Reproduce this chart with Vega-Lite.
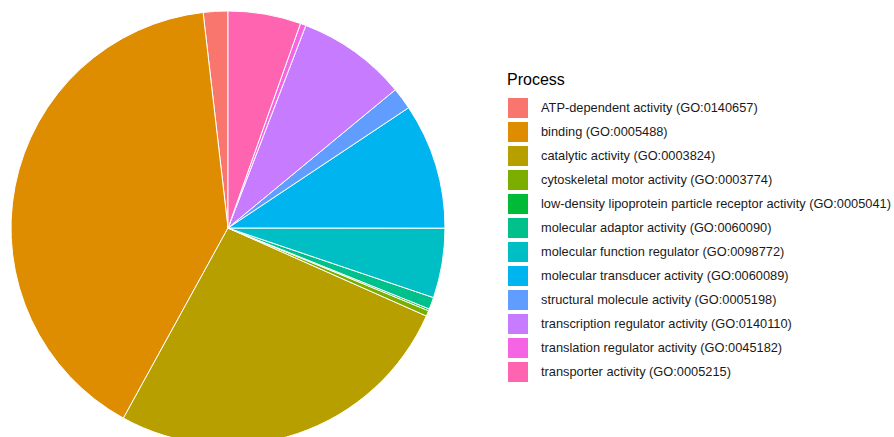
{
  "$schema": "https://vega.github.io/schema/vega-lite/v6.json",
  "width": 456,
  "height": 456,
  "autosize": {"type": "none"},
  "padding": {"left": 0, "top": 0, "right": 438, "bottom": -19},
  "background": "white",
  "config": {"view": {"stroke": null}},
  "data": {
    "values": [
      {"process": "ATP-dependent activity (GO:0140657)", "share": 1.83},
      {"process": "binding (GO:0005488)", "share": 40.17},
      {"process": "catalytic activity (GO:0003824)", "share": 26.36},
      {"process": "cytoskeletal motor activity (GO:0003774)", "share": 0.42},
      {"process": "low-density lipoprotein particle receptor activity (GO:0005041)", "share": 0.14},
      {"process": "molecular adaptor activity (GO:0060090)", "share": 0.89},
      {"process": "molecular function regulator (GO:0098772)", "share": 5.19},
      {"process": "molecular transducer activity (GO:0060089)", "share": 9.36},
      {"process": "structural molecule activity (GO:0005198)", "share": 1.64},
      {"process": "transcription regulator activity (GO:0140110)", "share": 8.17},
      {"process": "translation regulator activity (GO:0045182)", "share": 0.42},
      {"process": "transporter activity (GO:0005215)", "share": 5.42}
    ]
  },
  "mark": {"type": "arc", "radius": 217, "stroke": "white", "strokeWidth": 1},
  "encoding": {
    "theta": {"field": "share", "type": "quantitative", "stack": true},
    "order": {"field": "process", "type": "nominal", "sort": "descending"},
    "color": {
      "field": "process",
      "type": "nominal",
      "scale": {
        "domain": [
          "ATP-dependent activity (GO:0140657)",
          "binding (GO:0005488)",
          "catalytic activity (GO:0003824)",
          "cytoskeletal motor activity (GO:0003774)",
          "low-density lipoprotein particle receptor activity (GO:0005041)",
          "molecular adaptor activity (GO:0060090)",
          "molecular function regulator (GO:0098772)",
          "molecular transducer activity (GO:0060089)",
          "structural molecule activity (GO:0005198)",
          "transcription regulator activity (GO:0140110)",
          "translation regulator activity (GO:0045182)",
          "transporter activity (GO:0005215)"
        ],
        "range": ["#F8766D", "#DE8C00", "#B79F00", "#7CAE00", "#00BA38", "#00C08B", "#00BFC4", "#00B4F0", "#619CFF", "#C77CFF", "#F564E3", "#FF64B0"]
      },
      "legend": {
        "title": "Process",
        "orient": "none",
        "legendX": 507,
        "legendY": 72,
        "padding": 0,
        "titleFont": "Liberation Sans",
        "titleFontSize": 16,
        "titleFontWeight": "normal",
        "titleColor": "#000000",
        "titlePadding": 9,
        "labelFont": "Liberation Sans",
        "labelFontSize": 12.8,
        "labelColor": "#1a1a1a",
        "labelLimit": 500,
        "labelOffset": 12,
        "symbolType": "square",
        "symbolSize": 441,
        "symbolStrokeColor": "white",
        "symbolStrokeWidth": 1,
        "symbolOpacity": 1,
        "rowPadding": -2.1
      }
    }
  }
}
